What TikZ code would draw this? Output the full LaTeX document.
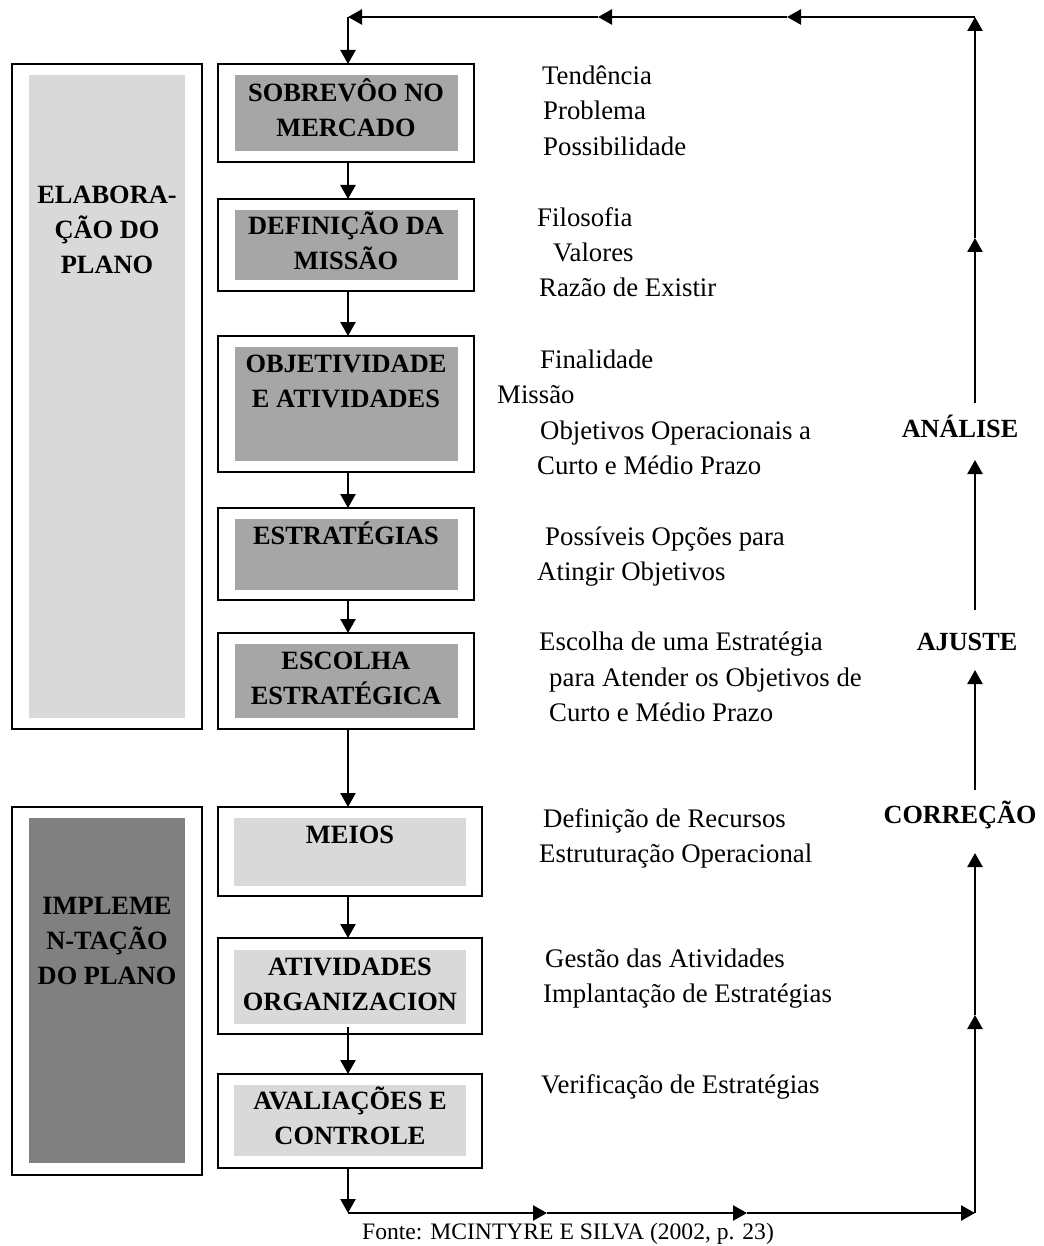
\documentclass[tikz,border=0pt]{standalone}
\usepackage{fontspec}
\setmainfont{Liberation Serif}
\usetikzlibrary{arrows.meta,calc}
\definecolor{lightfill}{HTML}{D9D9D9}
\definecolor{midfill}{HTML}{A6A6A6}
\definecolor{darkfill}{HTML}{808080}

\begin{document}
\begin{tikzpicture}[x=1pt,y=-1pt,
  frame/.style={draw=black,line width=2.3pt,inner sep=0pt,outer sep=0pt},
  flow/.style={-{Triangle[length=14pt,width=15pt]},line width=2.5pt},
  boxtext/.style={font=\fontsize{26.4}{35}\selectfont\bfseries,align=center,anchor=base,inner sep=0pt},
  note/.style={font=\fontsize{26.8}{35}\selectfont,anchor=base west,inner sep=0pt},
  source/.style={font=\fontsize{23.6}{30}\selectfont,anchor=base west,inner sep=0pt},
  tag/.style={font=\fontsize{26.2}{35}\selectfont\bfseries,anchor=base,inner sep=0pt}]

\useasboundingbox (0,0) rectangle (1043,1246);

% ---- phase panels on the left (text nodes anchored on their last line) ----
\node[frame,minimum width=190pt,minimum height=665pt] (L1) at (107,396.5) {};
\fill[lightfill] ($(L1.north west)+(17,11)$) rectangle ($(L1.south east)+(-17,-11)$);
\node[boxtext] (L1t) at (107,274) {ELABORA-\\ÇÃO DO\\PLANO};

\node[frame,minimum width=190pt,minimum height=368pt] (L2) at (107,991) {};
\fill[darkfill] ($(L2.north west)+(17,11)$) rectangle ($(L2.south east)+(-17,-12)$);
\node[boxtext] (L2t) at (107,984) {IMPLEME\\N-TAÇÃO\\DO PLANO};

% ---- planning steps ----
\node[frame,minimum width=256pt,minimum height=98pt] (b1) at (346,113) {};
\fill[midfill] ($(b1.north west)+(17,11)$) rectangle ($(b1.south east)+(-16,-11)$);
\node[boxtext] (b1t) at (346,136.5) {SOBREVÔO NO\\MERCADO};

\node[frame,minimum width=256pt,minimum height=92pt] (b2) at (346,245) {};
\fill[midfill] ($(b2.north west)+(17,11)$) rectangle ($(b2.south east)+(-16,-11)$);
\node[boxtext] (b2t) at (346,269.5) {DEFINIÇÃO DA\\MISSÃO};

\node[frame,minimum width=256pt,minimum height=136pt] (b3) at (346,404) {};
\fill[midfill] ($(b3.north west)+(17,11)$) rectangle ($(b3.south east)+(-16,-11)$);
\node[boxtext] (b3t) at (346,407) {OBJETIVIDADE\\E ATIVIDADES};

\node[frame,minimum width=256pt,minimum height=92pt] (b4) at (346,554) {};
\fill[midfill] ($(b4.north west)+(17,11)$) rectangle ($(b4.south east)+(-16,-10)$);
\node[boxtext] (b4t) at (346,544) {ESTRATÉGIAS};

\node[frame,minimum width=256pt,minimum height=96pt] (b5) at (346,681) {};
\fill[midfill] ($(b5.north west)+(17,11)$) rectangle ($(b5.south east)+(-16,-11)$);
\node[boxtext] (b5t) at (346,704) {ESCOLHA\\ESTRATÉGICA};

% ---- implementation steps ----
\node[frame,minimum width=264pt,minimum height=89pt] (b6) at (350,851.5) {};
\fill[lightfill] ($(b6.north west)+(16,11)$) rectangle ($(b6.south east)+(-16,-10)$);
\node[boxtext] (b6t) at (350,843) {MEIOS};

\node[frame,minimum width=264pt,minimum height=96pt] (b7) at (350,986) {};
\fill[lightfill] ($(b7.north west)+(16,12)$) rectangle ($(b7.south east)+(-16,-10)$);
\node[boxtext] (b7t) at (350,1010) {ATIVIDADES\\ORGANIZACION};

\node[frame,minimum width=264pt,minimum height=94pt] (b8) at (350,1121) {};
\fill[lightfill] ($(b8.north west)+(16,11)$) rectangle ($(b8.south east)+(-16,-12)$);
\node[boxtext] (b8t) at (350,1144) {AVALIAÇÕES E\\CONTROLE};

% ---- descriptions ----
\node[note] (n1)  at (542,85)   {Tendência};
\node[note] (n2)  at (543,120)  {Problema};
\node[note] (n3)  at (543,156)  {Possibilidade};
\node[note] (n4)  at (537,227)  {Filosofia};
\node[note] (n5)  at (553,262)  {Valores};
\node[note] (n6)  at (539,297)  {Razão de Existir};
\node[note] (n7)  at (540,368)  {Finalidade};
\node[note] (n8)  at (497,403)  {Missão};
\node[note] (n9)  at (540,439)  {Objetivos Operacionais a};
\node[note] (n10) at (537,474)  {Curto e Médio Prazo};
\node[note] (n11) at (545,545)  {Possíveis Opções para};
\node[note] (n12) at (537,580)  {Atingir Objetivos};
\node[note] (n13) at (539,650)  {Escolha de uma Estratégia};
\node[note] (n14) at (549,686)  {para Atender os Objetivos de};
\node[note] (n15) at (549,721)  {Curto e Médio Prazo};
\node[note] (n16) at (543,827)  {Definição de Recursos};
\node[note] (n17) at (539,862)  {Estruturação Operacional};
\node[note] (n18) at (545,967)  {Gestão das Atividades};
\node[note] (n19) at (543,1002) {Implantação de Estratégias};
\node[note] (n20) at (541,1093) {Verificação de Estratégias};

% ---- feedback labels ----
\node[tag] (analise)  at (960,437) {ANÁLISE};
\node[tag] (ajuste)   at (967,650) {AJUSTE};
\node[tag] (correcao) at (960,823) {CORREÇÃO};

\node[source] (fonte) at (362,1239) {Fonte: MCINTYRE E SILVA (2002, p. 23)};

% ---- loop corners and arrow stations ----
\coordinate (tl)  at (348,17);
\coordinate (tr)  at (975,17);
\coordinate (bl)  at (348,1213);
\coordinate (brc) at (975,1213);
\coordinate (tA)  at (787,17);
\coordinate (tB)  at (598,17);
\coordinate (bA)  at (547,1213);
\coordinate (bB)  at (747,1213);
\coordinate (rA)  at (975,1015);
\coordinate (rB)  at (975,853);
\coordinate (rC)  at (975,790);
\coordinate (rD)  at (975,670);
\coordinate (rE)  at (975,610);
\coordinate (rF)  at (975,460);
\coordinate (rG)  at (975,403);
\coordinate (rH)  at (975,238);

% ---- main sequence ----
\draw[flow] (tl) -- (b1.north -| tl);
\draw[flow] (b1.south -| tl) -- (b2.north -| tl);
\draw[flow] (b2.south -| tl) -- (b3.north -| tl);
\draw[flow] (b3.south -| tl) -- (b4.north -| tl);
\draw[flow] (b4.south -| tl) -- (b5.north -| tl);
\draw[flow] (b5.south -| tl) -- (b6.north -| tl);
\draw[flow] (b6.south -| tl) -- (b7.north -| tl);
\draw[flow] ([yshift=7pt]b7.south -| tl) -- (b8.north -| tl);
\draw[flow] (b8.south -| tl) -- (bl);

% ---- feedback loop ----
\draw[flow] (bl) -- (bA);
\draw[flow] (bA) -- (bB);
\draw[flow] (bB) -- (brc);
\draw[flow] (brc) -- (rA);
\draw[flow] (rA) -- (rB);
\draw[flow] (rC) -- (rD);
\draw[flow] (rE) -- (rF);
\draw[flow] (rG) -- (rH);
\draw[flow] (rH) -- (tr);
\draw[flow] (tr) -- (tA);
\draw[flow] (tA) -- (tB);
\draw[flow] (tB) -- (tl);

\end{tikzpicture}
\end{document}
